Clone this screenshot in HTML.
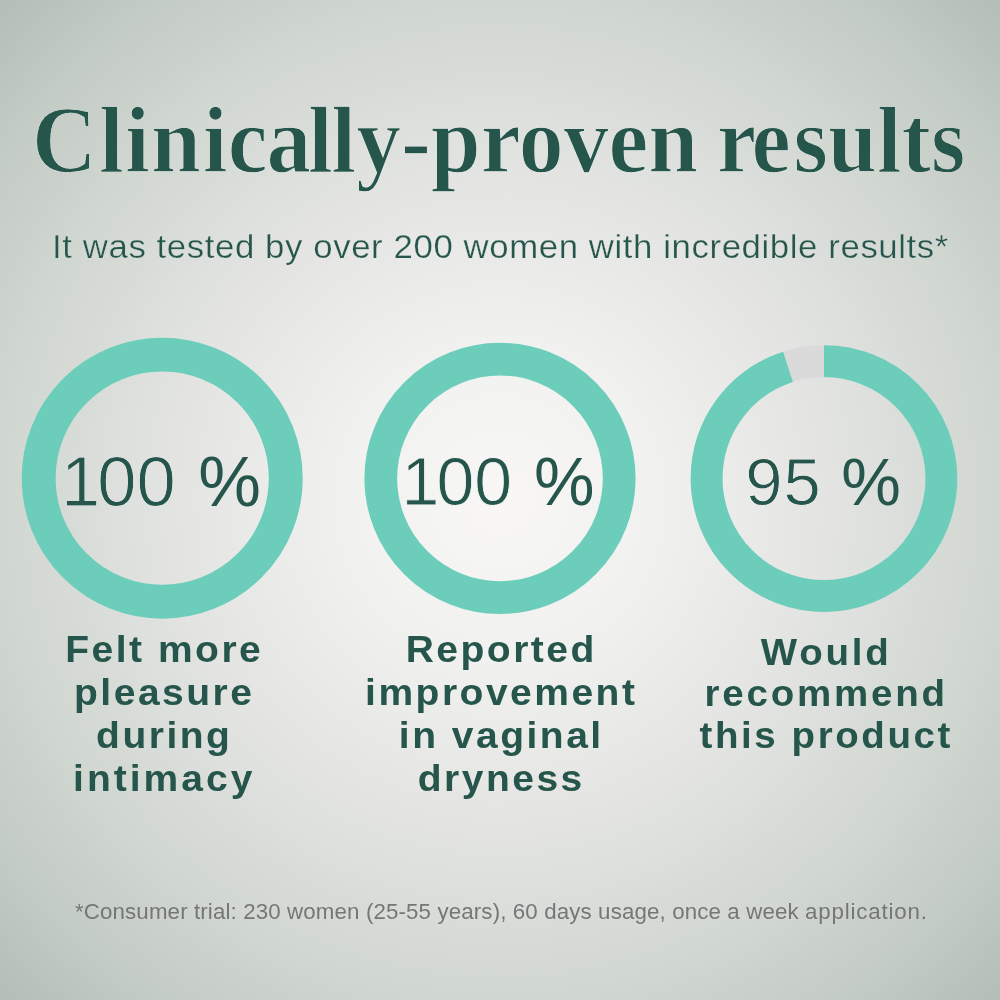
<!DOCTYPE html>
<html lang="en">
<head>
<meta charset="utf-8">
<title>Clinically-proven results</title>
<style>
  html, body { margin: 0; padding: 0; }
  body {
    width: 1000px; height: 1000px; overflow: hidden; position: relative;
    font-family: "Liberation Sans", sans-serif;
    background: radial-gradient(circle 708px at 500px 500px,
      #f8f7f6 0%, #f1f1ef 22%, #e4e5e3 45%, #d0d6d0 70.7%, #c2cbc4 86%, #b3beb6 100%);
  }
  .abs { position: absolute; white-space: nowrap; margin: 0; }
  h1.abs {
    font-family: "Liberation Serif", serif; font-weight: bold; color: #26564b;
    font-size: 95.5px; line-height: 100px; left: 0; top: 90px; width: 1000px; height: 110px;
    -webkit-text-stroke: 1.3px #eeeeec; mix-blend-mode: darken;
  }
  h1 > span { position: absolute; top: 0; transform-origin: 0 0; white-space: nowrap; }
  h1 .w1 { left: 32.1px; transform: scaleX(0.9385); }
  h1 .w2 { left: 716.8px; transform: scaleX(0.925); }
  .sub {
    color: #26564b; font-size: 32.5px; line-height: 40px; left: 51.5px; top: 226.8px;
    transform-origin: 0 0; transform: scaleX(1.07); letter-spacing: 0.55px;
    -webkit-text-stroke: 0.25px #f2f2f0; mix-blend-mode: darken;
  }
  .ring { position: absolute; left: 0; top: 0; }
  .num {
    color: #26564b; font-size: 70.5px; line-height: 70px; text-align: center;
    width: 300px; transform-origin: 50% 50%;
    -webkit-text-stroke: 0.8px #faf9f8; mix-blend-mode: darken;
  }
  .num .pc { -webkit-text-stroke-width: 0; }
  .lab {
    color: #26564b; font-weight: bold; font-size: 37.5px; line-height: 43.2px;
    text-align: center; width: 340px; letter-spacing: 2.4px; padding-left: 2.4px; box-sizing: border-box;
    transform-origin: 50% 0; transform: scaleX(1.04);
  }
  .foot {
    color: #767676; font-size: 22px; line-height: 26px; left: 75px; top: 898.5px;
    transform-origin: 0 0; transform: scaleX(1.014); letter-spacing: 0.12px;
  }
</style>
</head>
<body>
  <h1 class="abs"><span class="w1"><span style="letter-spacing:2.4px">C</span><span style="letter-spacing:1.2px">li</span><span style="letter-spacing:2px">n</span>i<span style="letter-spacing:-1px">c</span><span style="letter-spacing:-3.7px">a</span><span style="letter-spacing:-1.6px">l</span>ly-proven </span><span class="w2"><span style="letter-spacing:-5px">r</span><span style="letter-spacing:3px">e</span>sults</span></h1>
  <p class="abs sub">It was tested by over 200 women with incredible results*</p>

  <svg class="ring" width="1000" height="1000" viewBox="0 0 1000 1000">
    <circle cx="162.2" cy="478.2" r="123.55" fill="none" stroke="#6ccdba" stroke-width="33.9"/>
    <circle cx="500" cy="478.35" r="119.2" fill="none" stroke="#6ccdba" stroke-width="32.75"/>
    <circle cx="824" cy="478.55" r="117.4" fill="none" stroke="#dadada" stroke-width="31.85"/>
    <circle cx="824" cy="478.55" r="117.4" fill="none" stroke="#6ccdba" stroke-width="31.85"
      stroke-dasharray="700.77 36.88" transform="rotate(-90 824 478.55)"/>
  </svg>

  <div class="abs num" style="left:11px; top:447px;"><span style="letter-spacing:-3px">1</span>0<span style="letter-spacing:3px">0</span> <span class="pc">%</span></div>
  <div class="abs num" style="left:348px; top:446px; font-size:68px;"><span style="letter-spacing:-3px">1</span>0<span style="letter-spacing:3px">0</span> <span class="pc">%</span></div>
  <div class="abs num" style="left:673.5px; top:446.5px; font-size:67px; letter-spacing:1px;">95 <span class="pc">%</span></div>

  <div class="abs lab" style="left:-7px; top:627.5px;">Felt more<br>pleasure<br>during<br><span style="letter-spacing:2.9px">intimacy</span></div>
  <div class="abs lab" style="left:330px; top:627.6px;">Reported<br>improvement<br>in vaginal<br>dryness</div>
  <div class="abs lab" style="left:654.5px; top:631.5px; font-size:37px; line-height:41.7px; letter-spacing:2.7px;">Would<br>recommend<br><span style="letter-spacing:2.5px">this product</span></div>

  <p class="abs foot">*Consumer trial: 230 women (25-55 years), 60 days usage, once a week <span style="letter-spacing:0.8px">application.</span></p>
</body>
</html>
